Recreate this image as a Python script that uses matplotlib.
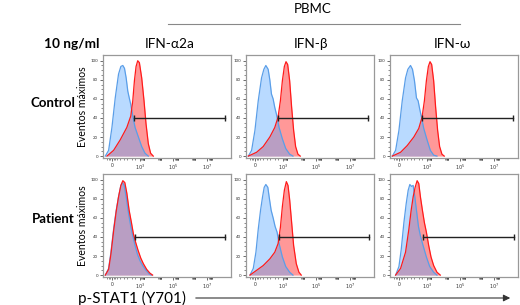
import matplotlib
matplotlib.use("Agg")
import matplotlib.pyplot as plt
import numpy as np

plt.rcParams['font.family'] = ['Lato', 'DejaVu Sans']

# x positions are display channels on the biexponential axis
col_titles = ["IFN-α2a", "IFN-β", "IFN-ω"]
row_titles = ["Control", "Patient"]
xtick_pos = [35, 119, 221, 323]
xtick_labels = ["0", "$10^3$", "$10^5$", "$10^7$"]
ytick_vals = [0, 20, 40, 60, 80, 100]

# ---- Control row ----
c1_blue_x = [15, 25, 35, 45, 55, 62, 68, 73, 78, 83, 88, 92, 98, 105, 115, 125, 135, 145]
c1_blue_y = [0, 6, 30, 61, 86, 94, 95, 92, 82, 68, 60, 54, 42, 30, 20, 10, 3, 0]
c1_red_x = [20, 40, 60, 80, 92, 98, 103, 108, 113, 118, 125, 132, 138, 145, 152, 160]
c1_red_y = [0, 6, 17, 30, 42, 58, 79, 94, 100, 98, 82, 58, 34, 13, 3, 0]
c1_gate = [103, 376]

c2_blue_x = [15, 25, 35, 45, 55, 62, 68, 75, 80, 85, 90, 95, 100, 108, 118, 128, 140, 150]
c2_blue_y = [0, 6, 27, 58, 82, 91, 95, 91, 80, 65, 60, 51, 44, 30, 18, 8, 2, 0]
c2_red_x = [15, 40, 60, 80, 95, 105, 112, 118, 124, 129, 134, 140, 146, 152, 158, 165, 172]
c2_red_y = [0, 4, 10, 20, 30, 41, 58, 79, 94, 99, 96, 79, 51, 27, 10, 2, 0]
c2_gate = [105, 378]

c3_blue_x = [15, 25, 35, 45, 55, 62, 70, 76, 82, 88, 93, 98, 103, 110, 120, 130, 140, 150]
c3_blue_y = [0, 6, 27, 58, 82, 91, 95, 91, 79, 61, 58, 49, 41, 29, 17, 6, 1, 0]
c3_red_x = [15, 40, 60, 80, 95, 105, 112, 118, 124, 129, 134, 140, 146, 152, 158, 165, 172]
c3_red_y = [0, 4, 11, 20, 29, 41, 58, 79, 94, 99, 96, 79, 51, 27, 10, 2, 0]
c3_gate = [105, 380]

# ---- Patient row ----
p1_blue_x = [15, 25, 32, 40, 48, 55, 62, 67, 72, 78, 85, 92, 98, 105, 112, 120, 128, 138, 148, 155]
p1_blue_y = [0, 7, 24, 48, 68, 82, 94, 97, 94, 82, 65, 51, 41, 31, 22, 15, 10, 5, 1, 0]
p1_red_x = [15, 25, 32, 40, 48, 55, 62, 68, 74, 80, 87, 94, 100, 107, 114, 122, 130, 140, 150, 158]
p1_red_y = [0, 6, 22, 46, 67, 82, 94, 99, 97, 86, 68, 55, 43, 34, 26, 18, 12, 6, 2, 0]
p1_gate = [105, 376]

p2_blue_x = [20, 30, 38, 45, 52, 58, 63, 68, 74, 78, 84, 90, 96, 102, 108, 118, 128, 140, 150]
p2_blue_y = [0, 7, 24, 48, 68, 82, 92, 95, 92, 82, 68, 60, 51, 45, 33, 19, 9, 3, 0]
p2_red_x = [20, 40, 60, 80, 95, 105, 112, 118, 124, 130, 135, 140, 146, 152, 160, 168, 175]
p2_red_y = [0, 5, 10, 17, 24, 33, 50, 72, 89, 98, 94, 79, 55, 31, 12, 3, 0]
p2_gate = [108, 380]

p3_blue_x = [25, 35, 42, 50, 57, 63, 68, 73, 78, 83, 88, 94, 100, 108, 118, 128, 140, 150]
p3_blue_y = [0, 9, 27, 55, 75, 89, 95, 93, 94, 82, 68, 51, 41, 31, 19, 9, 3, 0]
p3_red_x = [25, 40, 55, 65, 72, 78, 84, 90, 95, 100, 106, 112, 118, 125, 132, 140, 150, 160]
p3_red_y = [0, 7, 24, 48, 68, 82, 92, 99, 96, 82, 68, 55, 45, 31, 19, 10, 3, 0]
p3_gate = [108, 382]

panels = [
    [(c1_blue_x, c1_blue_y, c1_red_x, c1_red_y, c1_gate),
     (c2_blue_x, c2_blue_y, c2_red_x, c2_red_y, c2_gate),
     (c3_blue_x, c3_blue_y, c3_red_x, c3_red_y, c3_gate)],
    [(p1_blue_x, p1_blue_y, p1_red_x, p1_red_y, p1_gate),
     (p2_blue_x, p2_blue_y, p2_red_x, p2_red_y, p2_gate),
     (p3_blue_x, p3_blue_y, p3_red_x, p3_red_y, p3_gate)],
]

W, H = 520, 305
fig = plt.figure(figsize=(W / 100, H / 100), dpi=100)

def fx(px):
    return px / W

def fy(py):
    return 1 - py / H

col_left = [103, 246, 390]
col_w = 128
row_top = [55, 174]
row_h = 103

frame_col = "#999999"
for r in range(2):
    for c in range(3):
        bx, by, rx, ry, gate = panels[r][c]
        ax = fig.add_axes([fx(col_left[c]), fy(row_top[r] + row_h), fx(col_w), row_h / H])
        ax.fill_between(rx, ry, 0, color="#ff3a3a", alpha=0.52, lw=0, zorder=2)
        ax.fill_between(bx, by, 0, color="#5aa8ff", alpha=0.42, lw=0, zorder=3)
        ax.plot(bx, by, color="#5a9ee8", lw=0.9, zorder=4)
        ax.plot(rx, ry, color="#ff1a1a", lw=0.9, zorder=5)
        ax.plot(gate, [40, 40], color="#222222", lw=1.0, zorder=6)
        ax.plot(gate, [40, 40], ls="none", marker="|", ms=4, mew=1.0, color="#222222", zorder=6)
        ax.set_xlim(8, 395)
        ax.set_ylim(-2, 106)
        ax.set_xticks(xtick_pos)
        ax.set_xticklabels(xtick_labels, fontsize=3.5)
        ax.set_yticks(ytick_vals)
        ax.set_yticklabels([str(v) for v in ytick_vals], fontsize=3.2)
        minor_x = []
        for base in [119, 170, 221, 272, 323]:
            minor_x += [base + 15 * np.log10(k) for k in range(2, 10)]
        minor_x += [20, 25, 30, 40, 45, 50, 60, 70, 80, 95, 105]
        ax.set_xticks([m for m in minor_x if m < 393], minor=True)
        ax.set_yticks(np.arange(0, 101, 5), minor=True)
        ax.tick_params(axis="both", which="major", length=2, width=0.5, pad=1.5,
                       color="#333333", labelcolor="#333333")
        ax.tick_params(axis="both", which="minor", length=1.2, width=0.4, color="#333333")
        for s in ax.spines.values():
            s.set_color(frame_col)
            s.set_linewidth(0.9)

# Header texts
fig.text(fx(313), fy(9), "PBMC", ha="center", va="center", fontsize=9.5)
fig.add_artist(plt.Line2D([fx(168), fx(460)], [fy(24), fy(24)], color="#888888", lw=0.8))
fig.text(fx(72), fy(44), "10 ng/ml", ha="center", va="center", fontsize=9.8, fontweight="bold")
for c, t in enumerate(col_titles):
    fig.text(fx([170, 311, 452][c]), fy(44), t, ha="center", va="center", fontsize=9.8)

for r, t in enumerate(row_titles):
    fig.text(fx(53), fy([103, 219][r]), t, ha="center", va="center", fontsize=9.5, fontweight="bold")
    fig.text(fx(82), fy(row_top[r] + row_h / 2), "Eventos máximos", rotation=90,
             ha="center", va="center", fontsize=7.6)

fig.text(fx(78), fy(298), "p-STAT1 (Y701)", ha="left", va="center", fontsize=11)
fig.add_artist(matplotlib.patches.FancyArrowPatch(
    (fx(193), fy(298)), (fx(513), fy(298)), transform=fig.transFigure,
    arrowstyle="-|>,head_length=4,head_width=2", color="#333333", lw=0.8))

fig.savefig("out.png", dpi=100)
